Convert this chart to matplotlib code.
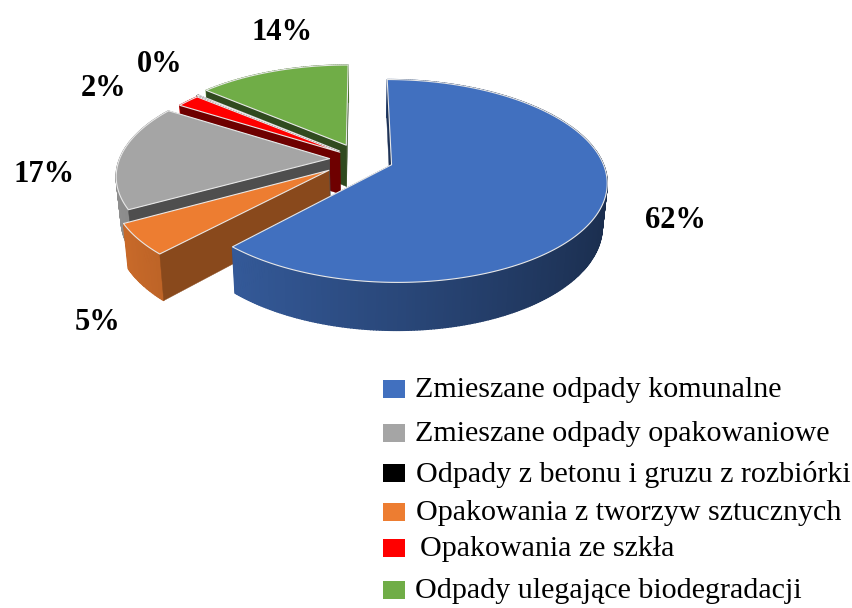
import numpy as np
import matplotlib
matplotlib.use("Agg")
import matplotlib.pyplot as plt
from matplotlib.patches import Polygon, Rectangle

plt.rcParams['font.family'] = ['Liberation Serif', 'DejaVu Serif']

# legend order
categories = ["Zmieszane odpady komunalne", "Zmieszane odpady opakowaniowe",
              "Odpady z betonu i gruzu z rozbiórki", "Opakowania z tworzyw sztucznych",
              "Opakowania ze szkła", "Odpady ulegające biodegradacji"]
shares = [61.9, 17.1, 0.2, 5.0, 2.1, 13.7]
colors = ["#4170bf", "#a5a5a5", "#000000", "#ed7d31", "#ff0000", "#70ad47"]
edge_shade = [0.45, 0.47, 1.0, 0.58, 0.43, 0.43]
explodes = [0.16, 0.145, 0.13, 0.185, 0.12, 0.16]

# clockwise from 12 o'clock in the pie
slice_order = [0, 3, 1, 4, 2, 5]

label_xy = [(675, 220), (44, 175), (160, 64), (98, 322), (104, 89), (282, 33)]
legend_y = [389, 433, 473, 512, 548, 590]
legend_text_x = [415, 415, 416, 416, 420, 415]

# projection of the tilted disc, in pixels
cx, cy = 360, 159
rx, ry = 210, 97
persp = 6.3
depth = 42


def project(x, z, low=False):
    f = persp / (persp + z)
    px = rx * x * f
    py = -ry * z * f
    if low:
        return cx + px * 0.98, cy + py * 0.98 + depth * f
    return cx + px, cy + py


def darker(col, k):
    return tuple(c * k for c in matplotlib.colors.to_rgb(col))


fig = plt.figure(figsize=(8.52, 6.08), dpi=100)
ax = fig.add_axes([0, 0, 1, 1])
ax.set_xlim(0, 852)
ax.set_ylim(608, 0)
ax.axis('off')

total = sum(shares)
spans = {}
start = 0.0
for i in slice_order:
    spans[i] = (start, start + 360.0 * shares[i] / total)
    start = spans[i][1]

# back to front: last slices first, the big one on top
for i in reversed(slice_order):
    a0, a1 = np.radians(spans[i])
    mid = (a0 + a1) / 2
    ox, oz = explodes[i] * np.sin(mid), explodes[i] * np.cos(mid)
    ts = np.linspace(a0, a1, max(int(np.degrees(a1 - a0) * 1.5), 3))
    xs = ox + np.sin(ts)
    zs = oz + np.cos(ts)
    col = colors[i]
    dark = darker(col, edge_shade[i])

    # end face
    q = [project(ox, oz), project(xs[-1], zs[-1]),
         project(xs[-1], zs[-1], True), project(ox, oz, True)]
    ax.add_patch(Polygon(q, closed=True, fc=dark, ec=dark, lw=0.3))

    # outer wall, shaded by direction
    order = np.argsort(-zs[:-1])
    for j in order:
        k = 0.638 - 0.238 * np.sin((ts[j] + ts[j + 1]) / 2)
        shade = darker(col, k)
        q = [project(xs[j], zs[j]), project(xs[j + 1], zs[j + 1]),
             project(xs[j + 1], zs[j + 1], True), project(xs[j], zs[j], True)]
        ax.add_patch(Polygon(q, closed=True, fc=shade, ec=shade, lw=1.0))

    # start face
    q = [project(ox, oz), project(xs[0], zs[0]),
         project(xs[0], zs[0], True), project(ox, oz, True)]
    ax.add_patch(Polygon(q, closed=True, fc=dark, ec=dark, lw=0.3))

    # top
    top = [project(ox, oz)] + [project(x, z) for x, z in zip(xs, zs)]
    ax.add_patch(Polygon(top, closed=True, fc=col, ec="#e8e8e8", lw=0.8, joinstyle='round'))

for i, (lx, ly) in enumerate(label_xy):
    ax.text(lx, ly, f"{round(shares[i])}%", fontsize=22, fontweight='bold',
            ha='center', va='center', color="black")

for name, col, y, tx in zip(categories, colors, legend_y, legend_text_x):
    ax.add_patch(Rectangle((383, y - 9), 22, 18, fc=col, ec="none"))
    ax.text(tx, y + 1, name, fontsize=21.6, ha='left', va='center', color="black")

fig.savefig("out.png", dpi=100)
